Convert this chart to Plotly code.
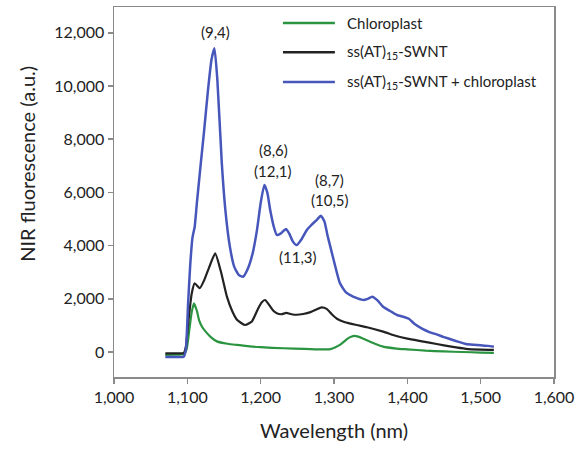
import plotly.graph_objects as go

# Wavelength (nm) and NIR fluorescence (a.u.)
wl_chloro = [1070, 1085, 1095, 1099, 1103, 1106, 1109, 1113, 1116, 1120, 1125, 1132, 1141, 1155, 1168, 1185,
             1200, 1231, 1260, 1285, 1295, 1302, 1308, 1315, 1320, 1326, 1333, 1344, 1355, 1367, 1385, 1400,
             1425, 1450, 1475, 1500, 1518]
fl_chloro = [-110, -100, -90, 100, 900, 1500, 1830, 1550, 1200, 950, 765, 560, 390, 310, 265, 210,
             180, 140, 120, 95, 110, 180, 265, 420, 530, 600, 580, 450, 320, 200, 130, 100,
             50, 20, 0, -20, -30]

wl_swnt = [1070, 1085, 1095, 1098, 1102, 1106, 1110, 1117, 1123, 1130, 1138, 1146, 1154, 1161, 1168, 1179,
           1188, 1196, 1201, 1206, 1212, 1217, 1222, 1228, 1235, 1242, 1249, 1258, 1268, 1276, 1283, 1290,
           1297, 1304, 1315, 1331, 1345, 1367, 1385, 1400, 1420, 1440, 1460, 1480, 1500, 1518]
fl_swnt = [-50, -50, -40, 200, 1300, 2200, 2580, 2400, 2700, 3200, 3710, 3000, 2080, 1550, 1200, 1015,
           1150, 1600, 1850, 1955, 1750, 1560, 1455, 1420, 1470, 1420, 1400, 1430, 1500, 1600, 1680, 1620,
           1420, 1250, 1120, 1015, 930, 765, 600, 500, 400, 300, 200, 120, 90, 80]

wl_mix = [1070, 1085, 1095, 1098, 1101, 1104, 1107, 1110, 1113, 1118, 1123, 1128, 1133, 1137, 1141, 1147,
          1152, 1158, 1164, 1170, 1176, 1182, 1189, 1195, 1200, 1205, 1209, 1213, 1218, 1222, 1227, 1231,
          1235, 1239, 1244, 1249, 1256, 1263, 1270, 1277, 1282, 1287, 1291, 1295, 1301, 1308, 1316, 1326,
          1340, 1346, 1352, 1359, 1367, 1376, 1386, 1395, 1402, 1410, 1420, 1430, 1440, 1450, 1460, 1470,
          1480, 1490, 1500, 1510, 1518]
fl_mix = [-190, -190, -180, 100, 1800, 3300, 4300, 4700, 5600, 7000, 8350, 9800, 11000, 11420, 10200, 7100,
          5300, 3960, 3200, 2900, 2830, 3100, 3700, 4590, 5600, 6280, 6000, 5340, 4700, 4400, 4450, 4550,
          4620, 4450, 4150, 4020, 4250, 4590, 4800, 4980, 5125, 4900, 4400, 3960, 3300, 2590, 2250, 2080,
          1955, 2000, 2080, 1950, 1700, 1550, 1390, 1320, 1250, 1050, 880, 750, 660, 560, 470, 380,
          300, 270, 250, 230, 200]

series_names = ["Chloroplast", "ss(AT)<sub>15</sub>-SWNT", "ss(AT)<sub>15</sub>-SWNT + chloroplast"]
series_colors = ["#2a9440", "#222222", "#4656bb"]

x_ticks = [1000, 1100, 1200, 1300, 1400, 1500, 1600]
x_tick_labels = ["1,000", "1,100", "1,200", "1,300", "1,400", "1,500", "1,600"]
y_ticks = [0, 2000, 4000, 6000, 8000, 10000, 12000]
y_tick_labels = ["0", "2,000", "4,000", "6,000", "8,000", "10,000", "12,000"]

# Peak labels: (text, x, y)
peak_labels = [
    ("(9,4)", 1139, 12030),
    ("(8,6)", 1217, 7580),
    ("(12,1)", 1217, 6820),
    ("(8,7)", 1294, 6470),
    ("(10,5)", 1294, 5700),
    ("(11,3)", 1251, 3580),
]

FONT = "Lato"
TXT = "#222222"

fig = go.Figure()
data = [(wl_chloro, fl_chloro), (wl_swnt, fl_swnt), (wl_mix, fl_mix)]
widths = [2.2, 2.2, 2.5]
for i, (xs, ys) in enumerate(data):
    fig.add_trace(go.Scatter(
        x=xs, y=ys, mode="lines", name=series_names[i], showlegend=False,
        line=dict(color=series_colors[i], width=widths[i], shape="spline", smoothing=0.5),
    ))

for text, x, y in peak_labels:
    fig.add_annotation(x=x, y=y, text=text, showarrow=False,
                       font=dict(family=FONT, size=15, color=TXT),
                       xanchor="center", yanchor="middle")

# Legend drawn in paper coordinates (line sample + label)
leg_y = [0.957, 0.878, 0.797]
for i, name in enumerate(series_names):
    fig.add_shape(type="line", xref="paper", yref="paper",
                  x0=0.384, x1=0.502, y0=leg_y[i], y1=leg_y[i],
                  line=dict(color=series_colors[i], width=2.5))
    fig.add_annotation(xref="paper", yref="paper", x=0.525, y=leg_y[i], text=name,
                       showarrow=False, xanchor="left", yanchor="middle",
                       font=dict(family=FONT, size=15, color=TXT))

# Axis titles
fig.add_annotation(xref="paper", yref="paper", x=0.5, y=-0.143, text="Wavelength (nm)",
                   showarrow=False, xanchor="center", yanchor="middle",
                   font=dict(family=FONT, size=20, color=TXT))
fig.add_annotation(xref="paper", yref="paper", x=-0.198, y=0.576, text="NIR fluorescence (a.u.)",
                   showarrow=False, xanchor="center", yanchor="middle", textangle=-90,
                   font=dict(family=FONT, size=20, color=TXT))

axis_common = dict(
    showline=True, linecolor="#8a8a8a", linewidth=1.5, mirror=True,
    ticks="outside", ticklen=5, tickcolor="#8a8a8a", tickwidth=1.5,
    showgrid=False, zeroline=False, automargin=False,
    tickfont=dict(family=FONT, size=16, color=TXT),
)

fig.update_layout(
    width=578, height=450,
    margin=dict(l=114, r=24, t=7, b=73),
    paper_bgcolor="white", plot_bgcolor="white",
    showlegend=False,
    xaxis=dict(range=[1000, 1600], tickvals=x_ticks, ticktext=x_tick_labels, **axis_common),
    yaxis=dict(range=[-940, 12970], tickvals=y_ticks, ticktext=y_tick_labels, **axis_common),
)

fig.write_html("out.html",
               config={"displayModeBar": False, "staticPlot": True},
               post_script="document.body.style.margin='0';document.body.style.padding='0';")
